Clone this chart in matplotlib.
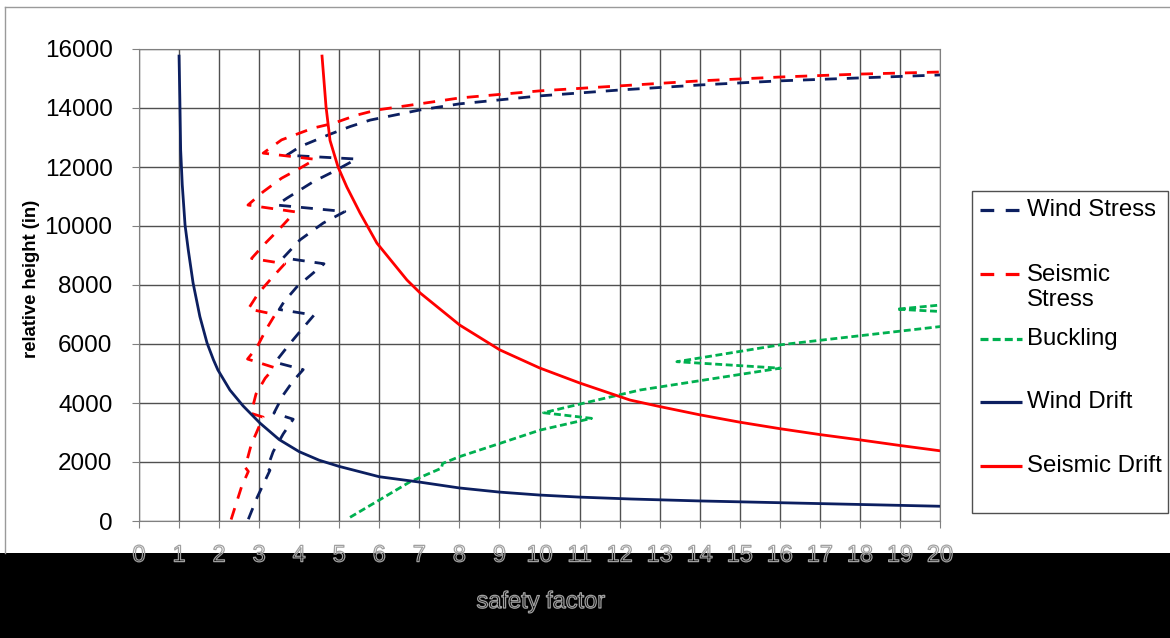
import matplotlib
matplotlib.use('Agg')
import matplotlib.pyplot as plt
import matplotlib.patheffects as pe
from matplotlib.patches import Rectangle

plt.rcParams['font.family'] = ['Liberation Sans', 'DejaVu Sans']

# safety factor (x) vs relative height in inches (y)
wind_stress_sf = [2.73, 2.95, 3.27, 3.20, 3.35, 3.60, 3.85, 3.37, 3.60, 3.85, 4.10, 3.40, 3.76,
                  4.13, 4.37, 3.50, 3.62, 3.95, 4.30, 4.62, 3.60, 4.02, 4.60, 5.14, 3.44, 3.69,
                  4.35, 4.85, 5.43, 3.69, 4.02, 4.73, 5.27, 5.77, 7, 8, 10, 12, 14, 16, 18, 20]
wind_stress_h = [60, 800, 1720, 1790, 2350, 2950, 3450, 3660, 4270, 4750, 5130, 5380, 6000,
                 6600, 6980, 7170, 7430, 7950, 8350, 8720, 8920, 9530, 10100, 10490, 10710, 10940,
                 11500, 11840, 12270, 12400, 12690, 13090, 13370, 13590, 13930, 14140, 14410,
                 14610, 14780, 14920, 15020, 15120]

seismic_stress_sf = [2.30, 2.56, 2.73, 2.65, 2.80, 3.10, 2.80, 2.92, 3.15, 3.38, 2.71, 2.94, 3.19,
                     3.40, 2.73, 2.98, 3.31, 3.64, 2.81, 3.15, 3.52, 3.90, 2.72, 3.10, 3.56, 4.02,
                     4.40, 3.10, 3.56, 4.35, 4.85, 5.44, 5.93, 7, 8, 10, 12, 14, 16, 18, 20]
seismic_stress_h = [50, 1160, 1680, 1820, 2580, 3520, 3650, 4300, 4840, 5200, 5490, 5880, 6530,
                    7000, 7190, 7720, 8230, 8720, 8900, 9410, 9920, 10480, 10710, 11160, 11620, 11960,
                    12260, 12470, 12920, 13320, 13480, 13760, 13930, 14140, 14340, 14580, 14750,
                    14920, 15050, 15150, 15220]

buckling_sf = [5.27, 6.77, 7.55, 7.58, 8.00, 9.01, 10.01, 11.30, 10.10, 11.09, 12.51, 16.01,
               13.43, 16.0, 20.0, 22.0, 18.92, 20.0, 22.0]
buckling_h = [125, 1330, 1790, 1950, 2180, 2630, 3080, 3480, 3670, 3990, 4440, 5180,
              5400, 5970, 6590, 6960, 7180, 7320, 7600]

wind_drift_sf = [1.00, 1.02, 1.04, 1.08, 1.15, 1.23, 1.35, 1.52, 1.70, 1.86, 1.97, 2.27, 2.60,
                 3.02, 3.50, 4.00, 4.50, 5.00, 6.00, 7.00, 8.00, 9.00, 10.0, 11.0, 12.3, 14.0,
                 16.0, 18.0, 20.0]
wind_drift_h = [15760, 14300, 12580, 11400, 10030, 9190, 8070, 6930, 6030, 5460, 5120, 4440, 3900,
                3320, 2760, 2350, 2060, 1850, 1500, 1320, 1120, 980, 880, 810, 745, 680,
                620, 560, 500]

seismic_drift_sf = [4.57, 4.62, 4.67, 4.77, 4.97, 5.19, 5.52, 5.94, 6.69, 7.02, 8.01, 9.01,
                    10.0, 11.0, 12.26, 13.0, 14.0, 15.0, 16.0, 17.0, 18.0, 19.0, 20.0]
seismic_drift_h = [15760, 14900, 14040, 12900, 12000, 11320, 10440, 9420, 8170, 7730, 6640,
                   5800, 5190, 4680, 4100, 3880, 3600, 3350, 3130, 2930, 2750, 2560, 2380]

series_names = ['Wind Stress', 'Seismic\nStress', 'Buckling', 'Wind Drift', 'Seismic Drift']
x_ticks = list(range(0, 21))
y_ticks = list(range(0, 16001, 2000))

NAVY = '#0c1f60'
RED = '#ff0000'
GREEN = '#00b050'
LW = 2.0
long_dash = (4.3, 3.6)
short_dash = (2.5, 1.3)

W, H = 1170, 638
fig = plt.figure(figsize=(W / 100, H / 100), dpi=100)

# background overlay in pixel coordinates (frame, black band, legend)
ov = fig.add_axes([0, 0, 1, 1], zorder=0)
ov.set_xlim(0, W)
ov.set_ylim(H, 0)
ov.set_axis_off()
ov.plot([5, W], [7, 7], color='#9a9a9a', lw=1)
ov.plot([5, 5], [7, 553], color='#9a9a9a', lw=1)
ov.add_patch(Rectangle((0, 553), W, H - 553, color='black', lw=0))

outline = [pe.Stroke(linewidth=0.9, foreground='#a0a0a0')]
ov.text(541, 602, 'safety factor', fontsize=17, color='none', ha='center', va='center',
        path_effects=outline)

# legend box
ov.add_patch(Rectangle((972, 191), 196, 322, fill=False, edgecolor='#505050', lw=1))
leg_styles = [dict(color=NAVY, dashes=long_dash), dict(color=RED, dashes=long_dash),
              dict(color=GREEN, dashes=short_dash), dict(color=NAVY), dict(color=RED)]
leg_y = [210, 274, 339, 402, 466]
for name, st, yy in zip(series_names, leg_styles, leg_y):
    ov.plot([980, 1022], [yy, yy], lw=LW + 0.3, solid_capstyle='butt', dash_capstyle='butt', **st)
    ty = yy + 13.5 if '\n' in name else yy
    ov.text(1027, ty, name, fontsize=17.3, va='center', ha='left', linespacing=1.12)

# main plot
ax = fig.add_axes([139 / W, 1 - 521 / H, (940 - 139) / W, (521 - 49) / H], zorder=1)
ax.plot(wind_stress_sf, wind_stress_h, color=NAVY, lw=LW, dashes=long_dash)
ax.plot(seismic_stress_sf, seismic_stress_h, color=RED, lw=LW, dashes=long_dash)
ax.plot(buckling_sf, buckling_h, color=GREEN, lw=LW, dashes=short_dash)
ax.plot(wind_drift_sf, wind_drift_h, color=NAVY, lw=LW)
ax.plot(seismic_drift_sf, seismic_drift_h, color=RED, lw=LW)

ax.set_xlim(0, 20)
ax.set_ylim(0, 16000)
ax.set_xticks(x_ticks)
ax.set_yticks(y_ticks)
ax.grid(True, color='#505050', lw=1.0)
ax.set_axisbelow(True)
for sp in ax.spines.values():
    sp.set_color('#808080')
ax.tick_params(axis='both', direction='out', length=5, width=0.8, color='#808080')
ax.tick_params(axis='y', labelsize=17.5, pad=14)
ax.tick_params(axis='x', labelsize=17, pad=12)
for lab in ax.get_xticklabels():
    lab.set_color('none')
    lab.set_path_effects(outline)

ax.set_ylabel('relative height (in)', fontsize=13.3, fontweight='bold')
ax.yaxis.set_label_coords(-0.124, 0.513)

fig.savefig('out.png', dpi=100)
